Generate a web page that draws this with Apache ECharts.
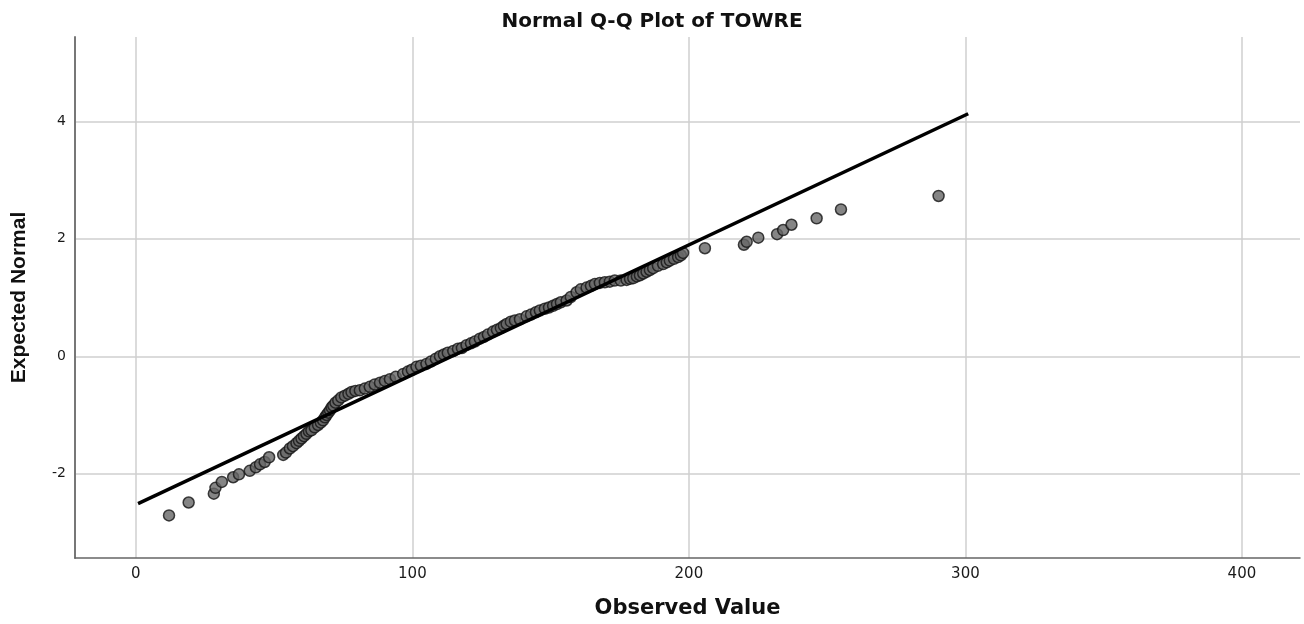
<!DOCTYPE html>
<html>
<head>
<meta charset="utf-8">
<title>Normal Q-Q Plot of TOWRE</title>
<script src="https://cdn.jsdelivr.net/npm/echarts@6/dist/echarts.min.js"></script>
<style>
  html, body { margin: 0; padding: 0; background: #ffffff; }
  #chart { width: 1304px; height: 624px; }
</style>
</head>
<body>
<div id="chart"></div>
<script>
// Observed TOWRE scores and their expected normal quantiles
const observed = [
  12.0, 19.1, 28.2, 28.8, 31.1, 35.2, 37.3, 41.2, 43.4, 44.9, 46.6, 48.2,
  53.3, 54.3, 55.7, 56.8, 58.1, 59.0, 59.9, 60.8, 61.7, 62.6,
  63.5, 64.7, 65.9, 66.9, 67.7, 68.4, 69.0, 69.6, 70.2, 70.8,
  71.4, 72.2, 73.2, 74.3, 75.6, 76.9, 78.0, 79.4, 81.0, 82.8,
  84.6, 86.4, 88.3, 90.1, 91.9, 94.0, 96.7, 98.4, 99.8, 101.5,
  103.1, 105.1, 106.7, 108.5, 110.0, 111.4, 112.8, 114.8, 116.5, 117.9,
  119.6, 121.2, 122.6, 124.4, 125.9, 127.3, 129.2, 130.6, 132.0, 133.1,
  134.1, 135.6, 137.1, 138.9, 141.3, 142.9, 144.7, 146.1, 147.9, 149.4,
  150.9, 152.3, 153.7, 155.8, 157.3, 159.4, 160.9, 163.0, 164.6, 166.0,
  167.8, 169.6, 171.4, 173.2, 175.4, 177.5, 178.7, 179.9, 181.2, 182.3,
  183.5, 184.7, 185.9, 187.1, 188.8, 190.7, 192.0, 193.1, 194.6, 196.1,
  197.1, 197.9,
  205.8, 219.9, 220.9, 225.1, 231.9, 234.1, 237.1, 246.2, 255.0, 290.3
];
const expectedNormal = [
  -2.71, -2.49, -2.34, -2.24, -2.14, -2.06, -2.01, -1.95, -1.89, -1.84, -1.80, -1.72,
  -1.68, -1.64, -1.57, -1.53, -1.48, -1.44, -1.40, -1.36, -1.32, -1.28,
  -1.26, -1.21, -1.17, -1.13, -1.09, -1.04, -1.00, -0.96, -0.92, -0.87,
  -0.84, -0.79, -0.75, -0.70, -0.67, -0.64, -0.61, -0.59, -0.58, -0.55,
  -0.52, -0.48, -0.45, -0.42, -0.39, -0.35, -0.30, -0.26, -0.23, -0.18,
  -0.16, -0.13, -0.09, -0.04, 0.00, 0.03, 0.06, 0.09, 0.13, 0.14,
  0.19, 0.22, 0.25, 0.30, 0.33, 0.37, 0.42, 0.45, 0.48, 0.52,
  0.55, 0.59, 0.61, 0.63, 0.68, 0.71, 0.75, 0.78, 0.81, 0.83,
  0.86, 0.89, 0.92, 0.95, 1.01, 1.09, 1.14, 1.17, 1.20, 1.23,
  1.25, 1.26, 1.27, 1.29, 1.29, 1.30, 1.32, 1.33, 1.36, 1.38,
  1.41, 1.44, 1.47, 1.50, 1.54, 1.57, 1.60, 1.63, 1.66, 1.69,
  1.72, 1.76,
  1.84, 1.90, 1.95, 2.02, 2.08, 2.15, 2.24, 2.35, 2.50, 2.73
];

// Reference line endpoints (observed, expected)
const refLineX = [0.8, 301.0];
const refLineY = [-2.51, 4.13];

// Tick values
const xTicks = [0, 100, 200, 300, 400];
const yTicks = [-2, 0, 2, 4];

const points = observed.map((v, i) => [v, expectedNormal[i]]);
const refLine = refLineX.map((v, i) => [v, refLineY[i]]);

const chart = echarts.init(document.getElementById('chart'), null, { renderer: 'canvas' });

chart.setOption({
  backgroundColor: '#ffffff',
  animation: false,
  title: {
    text: 'Normal Q-Q Plot of TOWRE',
    left: 'center',
    top: 7,
    textStyle: {
      fontFamily: 'DejaVu Sans',
      fontWeight: 'bold',
      fontSize: 20,
      color: '#111111'
    }
  },
  grid: {
    left: 75,
    right: 4,
    top: 37,
    bottom: 64,
    containLabel: false
  },
  xAxis: {
    type: 'value',
    min: -22,
    max: 421,
    name: 'Observed Value',
    nameLocation: 'middle',
    nameGap: 40,
    nameTextStyle: {
      fontFamily: 'DejaVu Sans',
      fontWeight: 'bold',
      fontSize: 21,
      color: '#111111'
    },
    axisLine: { show: true, onZero: false, lineStyle: { color: '#666666', width: 1.5 } },
    axisTick: { show: false, customValues: xTicks },
    axisLabel: {
      customValues: xTicks,
      margin: 9,
      fontFamily: 'DejaVu Sans',
      fontSize: 15,
      color: '#1a1a1a'
    },
    splitLine: { show: true, lineStyle: { color: '#cfcfcf', width: 1.5 } }
  },
  yAxis: {
    type: 'value',
    min: -3.435,
    max: 5.437,
    name: 'Expected Normal',
    nameLocation: 'middle',
    nameGap: 45,
    nameTextStyle: {
      fontFamily: 'Liberation Sans',
      fontWeight: 'bold',
      fontSize: 21,
      color: '#111111'
    },
    axisLine: { show: true, onZero: false, lineStyle: { color: '#777777', width: 2 } },
    axisTick: { show: false, customValues: yTicks },
    axisLabel: {
      customValues: yTicks,
      margin: 9,
      fontFamily: 'DejaVu Sans',
      fontSize: 14,
      color: '#1a1a1a'
    },
    splitLine: { show: true, lineStyle: { color: '#cfcfcf', width: 1.5 } }
  },
  series: [
    {
      type: 'scatter',
      data: points,
      symbol: 'circle',
      symbolSize: 11,
      itemStyle: {
        color: '#666666',
        borderColor: '#141414',
        borderWidth: 1.5
      },
      z: 2
    },
    {
      type: 'line',
      data: refLine,
      symbol: 'none',
      lineStyle: { color: '#000000', width: 3.5 },
      z: 3
    }
  ]
});
</script>
</body>
</html>
